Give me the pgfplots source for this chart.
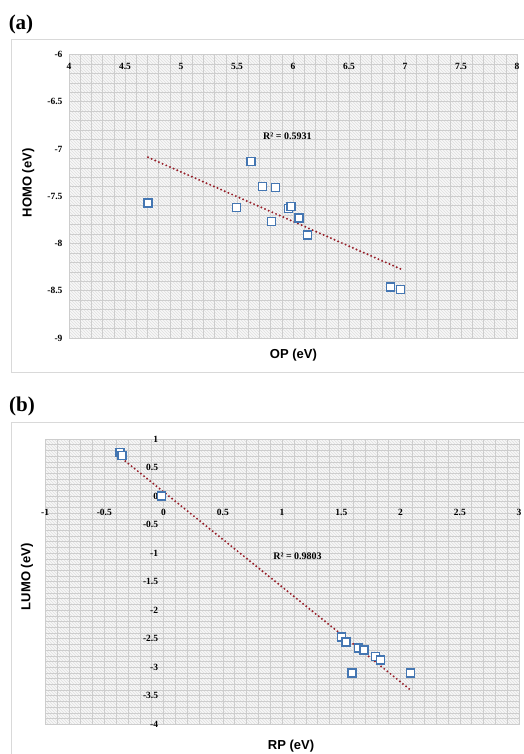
\documentclass[border=0pt]{standalone}
\usepackage{fontspec}
\setmainfont{Liberation Serif}
\setsansfont{Liberation Sans}
\usepackage{pgfplots}
\pgfplotsset{compat=1.18}
\usetikzlibrary{patterns}

\definecolor{mkblue}{RGB}{68,118,178}
\definecolor{trend}{RGB}{150,30,40}
\definecolor{gridc}{RGB}{205,205,205}
\definecolor{framec}{RGB}{217,217,217}

\newcommand{\lblfont}{\sffamily\bfseries\fontsize{13}{15}\selectfont}

\pgfplotsset{
  excelgrid/.style={
    scale only axis,
    grid=both,
    major grid style={gridc, line width=0.6pt},
    minor grid style={gridc, line width=0.6pt},
    minor tick num=4,
    major tick length=0pt, minor tick length=0pt,
    xtick distance=0.5, ytick distance=0.5,
    axis background/.style={fill=gray!6, draw=gridc,
      postaction={pattern=north west lines, pattern color=gray!25}},
    tick label style={font=\bfseries\fontsize{9.5}{11}\selectfont},
    /pgf/number format/assume math mode=true,
    scaled ticks=false,
  },
  pts/.style={only marks, mark=square*, mark size=4pt,
    mark options={draw=mkblue, fill=white, line width=1.4pt}},
  trendl/.style={trend, line width=2.2pt, line cap=round,
    dash pattern=on 0pt off 4pt},
}

\begin{document}
\begin{tikzpicture}
\useasboundingbox (0,0) rectangle (523pt,754pt);

% chart frames
\draw[framec, line width=1pt] (11pt,714pt) rectangle (540pt,381pt);
\draw[framec, line width=1pt] (11pt,331pt) rectangle (540pt,-20pt);

\node[font=\bfseries\fontsize{21}{24}\selectfont] at (21pt,730pt) {(a)};
\node[font=\bfseries\fontsize{21}{24}\selectfont] at (22pt,348pt) {(b)};

% (a) HOMO vs OP
\begin{axis}[excelgrid,
  at={(69pt,416pt)}, anchor=south west,
  width=448pt, height=283.5pt,
  xmin=4, xmax=8, ymin=-9, ymax=-6,
  axis line style={gridc},
  xticklabel pos=upper,
  xticklabel style={anchor=north, yshift=-5.5pt},
  yticklabel style={xshift=-3pt},
  xlabel={OP (eV)},
  xlabel style={at={(axis description cs:0.501,-0.062)}, anchor=center, font=\lblfont},
  ylabel={HOMO (eV)},
  ylabel style={at={(axis description cs:-0.091,0.547)}, anchor=center, font=\lblfont},
]
\addplot[pts] coordinates {
  (4.705,-7.57) (5.494,-7.62) (5.625,-7.13) (5.726,-7.40)
  (5.842,-7.41) (5.810,-7.77) (5.962,-7.63) (5.982,-7.61)
  (6.054,-7.73) (6.131,-7.91) (6.869,-8.46) (6.962,-8.49)
};
\addplot[trendl] coordinates {(4.705,-7.088) (6.962,-8.270)};
\node[font=\bfseries\fontsize{10}{12}\selectfont] at (axis cs:5.95,-6.86) {R² = 0.5931};
\end{axis}

% (b) LUMO vs RP
\begin{axis}[excelgrid,
  at={(45.1pt,29.7pt)}, anchor=south west,
  width=474pt, height=285.3pt,
  xmin=-1, xmax=3, ymin=-4, ymax=1,
  axis lines=middle,
  axis line style={-, draw=none},
  hide obscured x ticks=false, hide obscured y ticks=false,
  xticklabel style={yshift=-10pt},
  yticklabel style={xshift=-2pt},
  xlabel={RP (eV)},
  xlabel style={at={(axis description cs:0.519,-0.076)}, anchor=center, font=\lblfont},
  ylabel={LUMO (eV)},
  ylabel style={at={(axis description cs:-0.038,0.517)}, anchor=center, rotate=90, font=\lblfont},
]
\addplot[pts] coordinates {
  (-0.368,0.76) (-0.351,0.715) (-0.019,0.00)
  (1.500,-2.47) (1.539,-2.56) (1.590,-3.10) (1.646,-2.66)
  (1.691,-2.70) (1.790,-2.81) (1.832,-2.87) (2.082,-3.10)
};
\addplot[trendl] coordinates {(-0.376,0.70) (2.085,-3.40)};
\node[font=\bfseries\fontsize{10}{12}\selectfont] at (axis cs:1.13,-1.05) {R² = 0.9803};
\end{axis}
\end{tikzpicture}
\end{document}
